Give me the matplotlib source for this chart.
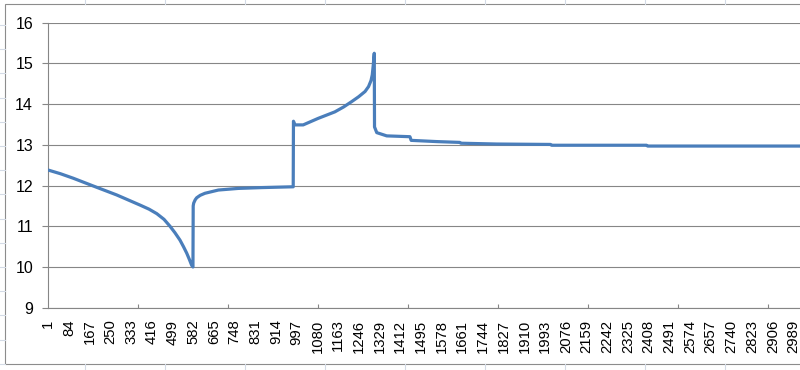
import matplotlib.pyplot as plt
import numpy as np
from matplotlib.lines import Line2D
from matplotlib.patches import Rectangle

plt.rcParams["font.family"] = ["Liberation Sans", "DejaVu Sans"]

# values (category index, value)
cat = [1, 50, 101, 181, 275, 369, 405, 436, 465, 489, 509, 529, 543, 556, 567, 576, 581,
       582, 584, 590, 596, 610, 629, 683, 763, 857, 983,
       984, 990, 1023, 1083, 1150, 1185, 1217, 1245, 1271, 1285, 1295, 1300, 1304, 1308,
       1309, 1318, 1358, 1451, 1456, 1558, 1651, 1655, 1799,
       2015, 2019, 2173, 2400, 2404, 3050]
val = [12.38, 12.29, 12.18, 11.99, 11.77, 11.52, 11.42, 11.31, 11.17, 11.0, 10.84, 10.66, 10.5, 10.34, 10.18, 10.04, 10.0,
       11.50, 11.57, 11.65, 11.70, 11.76, 11.81, 11.89, 11.93, 11.95, 11.97,
       13.58, 13.49, 13.49, 13.65, 13.81, 13.93, 14.06, 14.18, 14.31, 14.43, 14.58, 14.72, 14.96, 15.25,
       13.44, 13.30, 13.22, 13.20, 13.11, 13.08, 13.06, 13.04, 13.02,
       13.01, 12.99, 12.99, 12.99, 12.97, 12.97]

xtick_pos = list(range(1, 3000, 83))
xtick_lab = [str(v) for v in xtick_pos]
yticks = list(range(9, 17))

W, H = 800, 370
fig = plt.figure(figsize=(8, 3.7), dpi=100)

# spreadsheet background lines
sheet = "#d4dbe6"
for y in np.arange(25, 370, 24.2):
    fig.add_artist(Line2D([0, 5 / W], [1 - y / H] * 2, color=sheet, lw=0.8))
for x in np.arange(85, 800, 80):
    fig.add_artist(Line2D([x / W] * 2, [1, 1 - 4 / H], color=sheet, lw=0.8))
    fig.add_artist(Line2D([x / W] * 2, [0, 1 - 364 / H], color=sheet, lw=0.8))

# chart border
fig.add_artist(Rectangle((5 / W, 1 - 364 / H), 1.0, 360 / H,
                         fill=False, edgecolor="#8c8c8c", lw=0.8,
                         transform=fig.transFigure))

left, top, bottom = 48.3 / W, 1 - 22.7 / H, 1 - 307.7 / H
ax = fig.add_axes([left, bottom, 1 - left, top - bottom])

grid = "#868686"
ax.set_ylim(9, 16)
ax.set_xlim(1, 1 + (W - 48.3) / 0.2494)
ax.set_yticks(yticks)
ax.yaxis.grid(True, color=grid, lw=0.8)
ax.set_axisbelow(True)

ax.plot(cat, val, color="#4a7ebb", lw=2.3, solid_joinstyle="round",
        solid_capstyle="round", zorder=3)

for s in ["top", "right"]:
    ax.spines[s].set_visible(False)
for s in ["left", "bottom"]:
    ax.spines[s].set_color(grid)
    ax.spines[s].set_linewidth(0.8)

ax.tick_params(axis="y", direction="out", length=4, width=0.8, color=grid,
               pad=7, labelsize=11.5)
ax.set_xticks(xtick_pos)
ax.set_xticklabels(xtick_lab, rotation=90, fontsize=10.7)
ax.tick_params(axis="x", which="major", length=0, pad=8.5)
ax.set_xticks(np.arange(361.5, 3015, 361), minor=True)
ax.tick_params(axis="x", which="minor", direction="in", length=3, width=0.8,
               color=grid)

fig.savefig("out.png", dpi=100)
